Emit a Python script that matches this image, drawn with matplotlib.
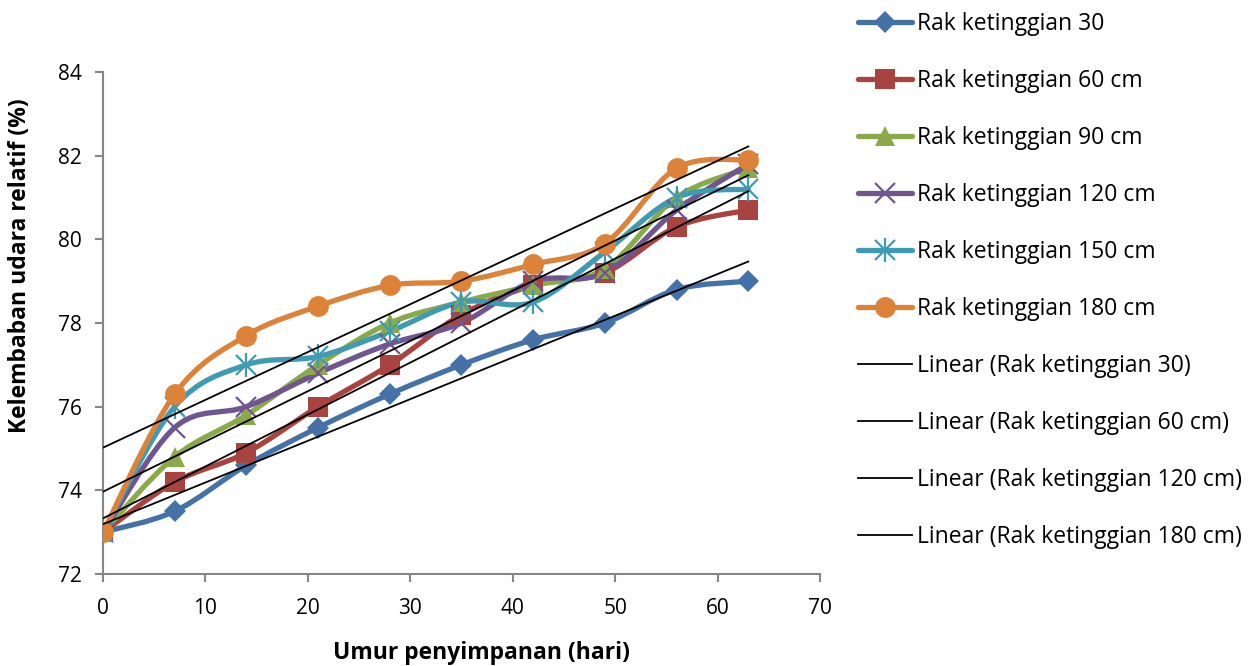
import numpy as np
import matplotlib.pyplot as plt
from matplotlib.path import Path
from matplotlib.patches import PathPatch
from matplotlib.lines import Line2D
from matplotlib.legend_handler import HandlerTuple

plt.rcParams['font.family'] = ['Open Sans', 'DejaVu Sans']

# data
days = [0, 7, 14, 21, 28, 35, 42, 49, 56, 63]
rak30 = [73.0, 73.5, 74.6, 75.5, 76.3, 77.0, 77.6, 78.0, 78.8, 79.0]
rak60 = [73.0, 74.2, 74.9, 76.0, 77.0, 78.2, 78.9, 79.2, 80.3, 80.7]
rak90 = [73.0, 74.8, 75.8, 77.0, 78.0, 78.5, 78.9, 79.3, 81.0, 81.7]
rak120 = [73.0, 75.5, 76.0, 76.8, 77.5, 78.0, 79.0, 79.2, 80.7, 81.8]
rak150 = [73.0, 76.0, 77.0, 77.2, 77.8, 78.5, 78.5, 79.7, 81.0, 81.2]
rak180 = [73.0, 76.3, 77.7, 78.4, 78.9, 79.0, 79.4, 79.9, 81.7, 81.9]

labels = ['Rak ketinggian 30', 'Rak ketinggian 60 cm', 'Rak ketinggian 90 cm',
          'Rak ketinggian 120 cm', 'Rak ketinggian 150 cm', 'Rak ketinggian 180 cm']
series = [rak30, rak60, rak90, rak120, rak150, rak180]
colors = ['#4472A8', '#A94340', '#8AAA4A', '#70558F', '#3F9BB4', '#DD8239']
markers = ['D', 's', '^', 'x', 'x', 'o']
msizes = [11, 14, 14, 14, 14, 15]
trend_idx = [0, 1, 3, 5]


def smooth_path(x, y):
    # excel-like smoothed line: catmull-rom as cubic bezier
    x = np.asarray(x, float)
    y = np.asarray(y, float)
    pts = np.column_stack([x, y])
    verts = [pts[0]]
    codes = [Path.MOVETO]
    n = len(pts)
    for i in range(n - 1):
        p0 = pts[max(i - 1, 0)]
        p1 = pts[i]
        p2 = pts[i + 1]
        p3 = pts[min(i + 2, n - 1)]
        c1 = p1 + (p2 - p0) / 6.0
        c2 = p2 - (p3 - p1) / 6.0
        verts += [c1, c2, p2]
        codes += [Path.CURVE4] * 3
    return Path(verts, codes)


fig = plt.figure(figsize=(12.51, 6.66), dpi=100)
ax = fig.add_axes([103 / 1251, 1 - 574 / 666, (820 - 103) / 1251, (574 - 72) / 666])

handles = []
for n, (s, c, m, ms) in enumerate(zip(series, colors, markers, msizes)):
    patch = PathPatch(smooth_path(days, s), fill=False, edgecolor=c, lw=3.8,
                      capstyle='round', joinstyle='round', zorder=2)
    ax.add_patch(patch)
    mew = 1.6 if m == 'x' else 0
    ax.plot(days, s, linestyle='none', marker=m, markersize=ms, color=c,
            markeredgecolor=c, markeredgewidth=mew, zorder=3)
    h = Line2D([], [], color=c, lw=3.8, marker=m, markersize=ms,
               markeredgecolor=c, markeredgewidth=mew, solid_capstyle='round')
    if n == 4:
        # asterisk marker = x plus a vertical bar
        ax.plot(days, s, linestyle='none', marker='|', markersize=ms * 1.2,
                color=c, markeredgewidth=mew, zorder=3)
        h2 = Line2D([], [], linestyle='none', marker='|', markersize=ms * 1.2,
                    color=c, markeredgewidth=mew)
        h = (h, h2)
    handles.append(h)

xs = np.array(days, float)
leg_labels = list(labels)
for i in trend_idx:
    k, b = np.polyfit(xs, series[i], 1)
    ax.plot([xs[0], xs[-1]], [b, k * xs[-1] + b], color='black', lw=1.3, zorder=4)
    handles.append(Line2D([], [], color='black', lw=1.3))
    leg_labels.append('Linear (' + labels[i] + ')')

ax.set_xlim(0, 70)
ax.set_ylim(72, 84)
ax.set_xticks(range(0, 71, 10))
ax.set_yticks(range(72, 85, 2))
for sp in ['top', 'right']:
    ax.spines[sp].set_visible(False)
for sp in ['left', 'bottom']:
    ax.spines[sp].set_color('#868686')
    ax.spines[sp].set_linewidth(1.5)
ax.tick_params(direction='out', length=6, width=1.5, color='#868686', labelsize=15)
ax.tick_params(axis='x', pad=11)
ax.tick_params(axis='y', pad=9)

ax.set_ylabel('Kelembaban udara relatif (%)', fontsize=16.5, fontweight='bold',
              va='center', ha='center')
ax.yaxis.set_label_coords((20 - 103) / 717, (574 - 266) / 502)
ax.set_xlabel('Umur penyimpanan (hari)', fontsize=16.5, fontweight='bold',
              va='center', ha='center')
ax.xaxis.set_label_coords((481 - 103) / 717, (574 - 653) / 502)

fig.legend(handles, leg_labels, loc='upper left', bbox_to_anchor=(849 / 1251, 1 - 3 / 666),
           frameon=False, fontsize=16.5, handlelength=2.36, handletextpad=0.21,
           labelspacing=1.44, borderaxespad=0,
           handler_map={tuple: HandlerTuple(ndivide=1, pad=0)})

fig.savefig('out.png', dpi=100)
